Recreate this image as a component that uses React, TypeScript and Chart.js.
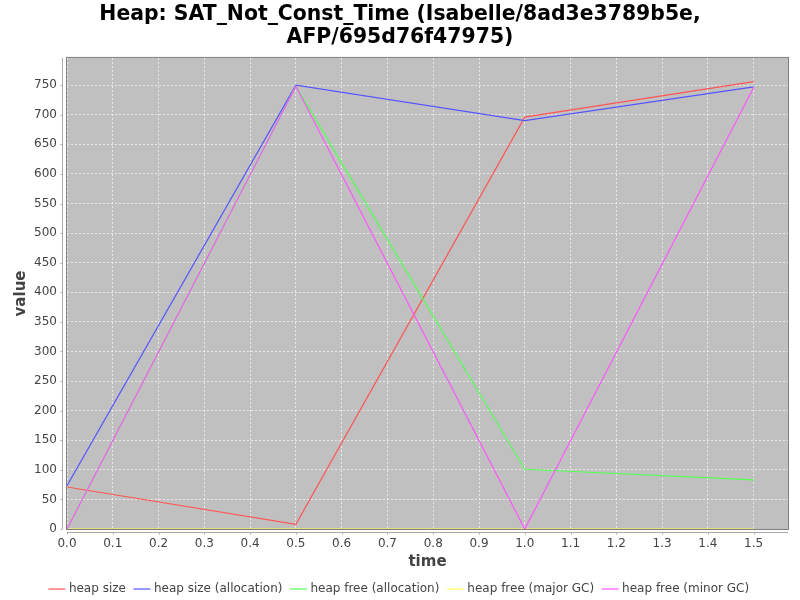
import React, { useEffect, useRef } from "react";
import { Chart, registerables } from "chart.js";

Chart.register(...registerables);

const titleLines = ["Heap: SAT_Not_Const_Time (Isabelle/8ad3e3789b5e,", "AFP/695d76f47975)"];
const times = [0.0, 0.5, 1.0, 1.5];
const heapSize = [71, 8, 696, 756];
const heapSizeAlloc = [73, 750, 690, 747];
const heapFreeAlloc = [0, 748, 101, 83];
const heapFreeMajor = [0, 0, 0, 0];
const heapFreeMinor = [0, 748, 0, 746];

const seriesNames = [
  "heap size",
  "heap size (allocation)",
  "heap free (allocation)",
  "heap free (major GC)",
  "heap free (minor GC)",
];
const seriesColors = ["#ff5555", "#5555ff", "#55ff55", "#ffff55", "#ff55ff"];
const seriesValues = [heapSize, heapSizeAlloc, heapFreeAlloc, heapFreeMajor, heapFreeMinor];

const xMin = 0;
const xMax = 1.575;
const yMin = 0;
const yMax = 796;

const plotDecor = {
  id: "plotDecor",
  beforeDraw(chart: any) {
    const { ctx, chartArea } = chart;
    ctx.save();
    ctx.fillStyle = "#c0c0c0";
    ctx.fillRect(chartArea.left, chartArea.top, chartArea.right - chartArea.left, chartArea.bottom - chartArea.top);
    ctx.restore();
  },
  afterDraw(chart: any) {
    const { ctx, chartArea, scales } = chart;
    ctx.save();
    ctx.strokeStyle = "#808080";
    ctx.lineWidth = 1;
    ctx.strokeRect(chartArea.left - 0.5, chartArea.top - 0.5, chartArea.right - chartArea.left + 1, chartArea.bottom - chartArea.top + 1);
    ctx.strokeStyle = "#aaaaaa";
    ctx.beginPath();
    const ax = chartArea.left - 4.5;
    ctx.moveTo(ax, chartArea.top);
    ctx.lineTo(ax, chartArea.bottom);
    const ay = chartArea.bottom + 3.5;
    ctx.moveTo(chartArea.left, ay);
    ctx.lineTo(chartArea.right, ay);
    ctx.stroke();
    ctx.beginPath();
    scales.y.ticks.forEach((t: any) => {
      const py = Math.round(scales.y.getPixelForValue(t.value)) + 0.5;
      ctx.moveTo(ax - 2, py);
      ctx.lineTo(ax, py);
    });
    scales.x.ticks.forEach((t: any) => {
      const px = Math.round(scales.x.getPixelForValue(t.value)) + 0.5;
      ctx.moveTo(px, ay);
      ctx.lineTo(px, ay + 2);
    });
    ctx.stroke();
    ctx.restore();
  },
};

export default function App() {
  const ref = useRef<HTMLCanvasElement>(null);
  useEffect(() => {
    if (!ref.current) return;
    const chart = new Chart(ref.current, {
      type: "line",
      data: {
        datasets: seriesNames.map((name, i) => ({
          label: name,
          data: times.map((t, j) => ({ x: t, y: seriesValues[i][j] })),
          borderColor: seriesColors[i],
          backgroundColor: seriesColors[i],
          borderWidth: 1.2,
          pointRadius: 0,
          tension: 0,
          fill: false,
          order: seriesNames.length - i,
        })),
      },
      options: {
        animation: false,
        responsive: false,
        devicePixelRatio: 1,
        layout: { padding: { left: 12, right: 12, top: 0, bottom: -5 } },
        plugins: {
          title: {
            display: true,
            text: titleLines,
            color: "#000000",
            font: { family: "DejaVu Sans", size: 20.4, weight: "bold", lineHeight: 1.15 },
            padding: { top: 3, bottom: 8 },
          },
          legend: {
            position: "bottom",
            labels: {
              usePointStyle: true,
              pointStyle: "line",
              boxWidth: 15,
              color: "#444444",
              font: { family: "DejaVu Sans", size: 12 },
              padding: 10,
              sort: (a: any, b: any) => a.datasetIndex - b.datasetIndex,
            },
          },
          tooltip: { enabled: false },
        },
        scales: {
          x: {
            type: "linear",
            min: xMin,
            max: xMax,
            title: {
              display: true,
              text: "time",
              color: "#444444",
              font: { family: "DejaVu Sans", size: 15, weight: "bold" },
              padding: { top: 2, bottom: 2 },
            },
            ticks: {
              stepSize: 0.1,
              includeBounds: false,
              color: "#444444",
              font: { family: "DejaVu Sans", size: 12 },
              maxRotation: 0,
              autoSkip: false,
              padding: 8,
              callback: (v: any) => Number(v).toFixed(1),
            },
            grid: {
              color: "rgba(255,255,255,0.65)",
              drawTicks: false,
              tickLength: 6,
            },
            border: { display: false, dash: [2, 2] },
            afterFit: (s: any) => {
              s.height = 44;
            },
          },
          y: {
            type: "linear",
            min: yMin,
            max: yMax,
            title: {
              display: true,
              text: "value",
              color: "#444444",
              font: { family: "DejaVu Sans", size: 15, weight: "bold" },
              padding: { top: 0, bottom: 4 },
            },
            ticks: {
              stepSize: 50,
              includeBounds: false,
              color: "#444444",
              font: { family: "DejaVu Sans", size: 12 },
              padding: 10,
              autoSkip: false,
            },
            grid: {
              color: "rgba(255,255,255,0.65)",
              drawTicks: false,
              tickLength: 6,
            },
            border: { display: false, dash: [2, 2] },
            afterFit: (s: any) => {
              s.width = 55;
            },
          },
        },
      },
      plugins: [plotDecor],
    });
    return () => chart.destroy();
  }, []);
  return (
    <div style={{ position: "absolute", left: 0, top: 0, width: 800, height: 600, background: "#ffffff" }}>
      <canvas ref={ref} width={800} height={600} style={{ width: 800, height: 600 }} />
    </div>
  );
}
